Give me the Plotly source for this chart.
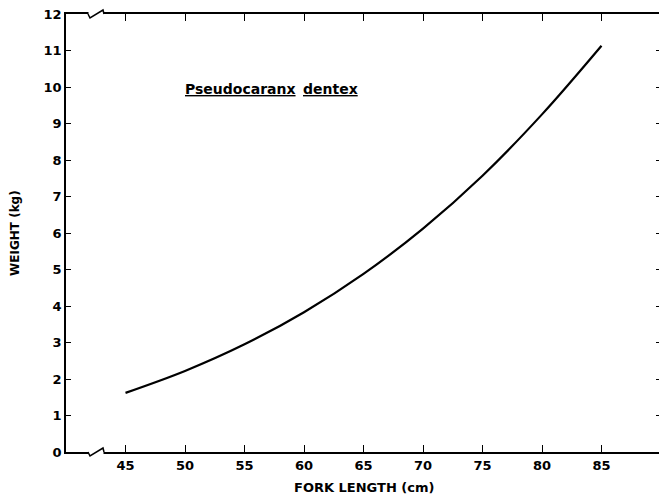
import plotly.graph_objects as go

# Data
fork_length_cm = [45, 50, 55, 60, 65, 70, 75, 80, 85]
weight_kg = [1.62, 2.22, 2.95, 3.83, 4.88, 6.12, 7.57, 9.25, 11.13]
x_ticks = [45, 50, 55, 60, 65, 70, 75, 80, 85]
y_ticks = list(range(0, 13))
species_words = ["Pseudocaranx", "dentex"]
x_title = "FORK LENGTH (cm)"
y_title = "WEIGHT (kg)"

FONT = "DejaVu Sans"
W, H = 659, 501
ML, MT, MB, MR = 66, 14, 49, 0
PW = W - ML - MR
PH = H - MT - MB


def px_to_paper_x(px):
    return (px - ML) / PW


def px_to_paper_y(py):
    return (H - MB - py) / PH


fig = go.Figure()
fig.add_trace(go.Scatter(
    x=fork_length_cm, y=weight_kg, mode="lines",
    line=dict(color="black", width=2.2, shape="spline", smoothing=1.0),
    showlegend=False, hoverinfo="skip",
))
# hidden trace to activate right-side tick axis
fig.add_trace(go.Scatter(
    x=[fork_length_cm[0]], y=[weight_kg[0]], yaxis="y2", mode="markers",
    marker=dict(opacity=0), showlegend=False, hoverinfo="skip",
))

fig.update_layout(
    width=W, height=H,
    margin=dict(l=ML, r=MR, t=MT, b=MB, pad=0),
    paper_bgcolor="white", plot_bgcolor="white",
    font=dict(family=FONT, color="black", size=13),
    xaxis=dict(
        range=[40, 40 + PW / 11.9], tickvals=x_ticks,
        ticks="inside", ticklen=7, tickwidth=1.3, tickcolor="black",
        showline=True, linecolor="black", linewidth=2, mirror="ticks",
        showgrid=False, zeroline=False,
        tickfont=dict(family=FONT, size=13, weight="bold"),
    ),
    yaxis=dict(
        range=[0, 12], tickvals=y_ticks,
        ticks="inside", ticklen=5, tickwidth=1.2, tickcolor="black",
        showline=True, linecolor="black", linewidth=1.8,
        showgrid=False, zeroline=False,
        tickfont=dict(family=FONT, size=13, weight="bold"),
    ),
    yaxis2=dict(
        range=[0, 12], tickvals=y_ticks, overlaying="y", side="right",
        ticks="inside", ticklen=3, tickwidth=1.2, tickcolor="black",
        showticklabels=False, showline=False, showgrid=False, zeroline=False,
    ),
)

annotations = [
    dict(text=f"<b>{x_title}</b>", xref="paper", yref="paper",
         x=px_to_paper_x(364), y=px_to_paper_y(488), xanchor="center", yanchor="middle",
         showarrow=False, font=dict(family=FONT, size=13)),
    dict(text=f"<b>{y_title}</b>", xref="paper", yref="paper",
         x=px_to_paper_x(15), y=0.5, xanchor="center", yanchor="middle",
         textangle=-90, showarrow=False, font=dict(family=FONT, size=12)),
    dict(text=species_words[0], xref="paper", yref="paper",
         x=px_to_paper_x(240), y=px_to_paper_y(89), xanchor="center", yanchor="middle",
         showarrow=False,
         font=dict(family=FONT, size=14, weight="bold", lineposition="under")),
    dict(text=species_words[1], xref="paper", yref="paper",
         x=px_to_paper_x(330.5), y=px_to_paper_y(89), xanchor="center", yanchor="middle",
         showarrow=False,
         font=dict(family=FONT, size=14, weight="bold", lineposition="under")),
]
fig.update_layout(annotations=annotations)

# axis break marks (bottom and top)
shapes = []
for base_py in [452, 14]:
    y0 = px_to_paper_y(base_py)
    shapes.append(dict(type="rect", xref="paper", yref="paper",
                       x0=px_to_paper_x(88.5), x1=px_to_paper_x(103.5),
                       y0=y0 - 2.5 / PH, y1=y0 + 2.5 / PH,
                       fillcolor="white", line=dict(width=0), layer="above"))
    pts = [(88, base_py), (90, base_py + 4), (103, base_py - 4), (104, base_py)]
    path = "M " + " L ".join(f"{px_to_paper_x(a):.5f},{px_to_paper_y(b):.5f}" for a, b in pts)
    shapes.append(dict(type="path", xref="paper", yref="paper", path=path,
                       line=dict(color="black", width=1.5), layer="above"))
fig.update_layout(shapes=shapes)

fig.write_html("out.html")
